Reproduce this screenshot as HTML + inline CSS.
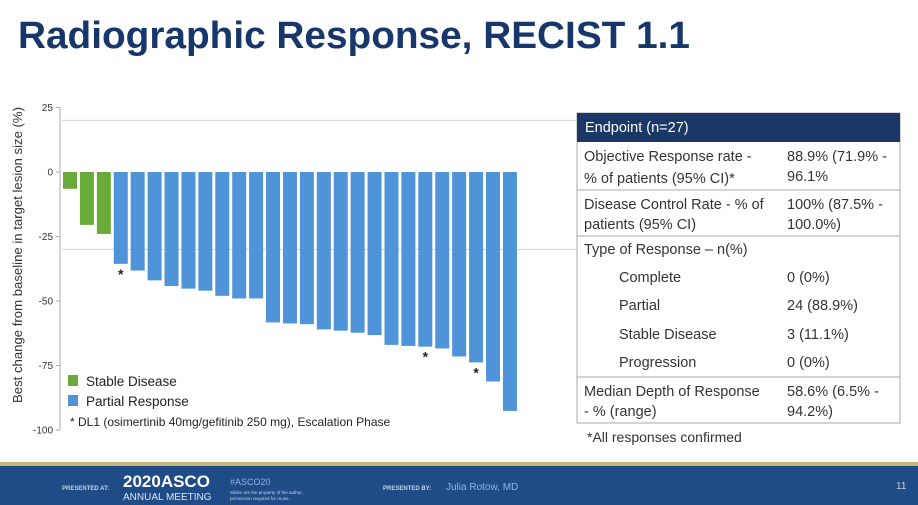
<!DOCTYPE html>
<html><head><meta charset="utf-8"><style>
html,body{margin:0;padding:0;background:#fff;}
svg{display:block;font-family:"Liberation Sans",sans-serif;}
</style></head><body>
<svg id="s" width="918" height="505" viewBox="0 0 918 505" xmlns="http://www.w3.org/2000/svg">
<text x="18" y="48" font-size="38" font-weight="bold" fill="#17376b" textLength="672" lengthAdjust="spacingAndGlyphs">Radiographic Response, RECIST 1.1</text>
<g id="chart"></g>
<text transform="translate(22,255) rotate(-90)" text-anchor="middle" font-size="12.5" fill="#333" textLength="296" lengthAdjust="spacingAndGlyphs">Best change from baseline in target lesion size (%)</text>
<rect x="68" y="375" width="10" height="11" fill="#6aaa3a"/>
<text x="86" y="386" font-size="13.5" fill="#222">Stable Disease</text>
<rect x="68" y="395" width="10" height="11" fill="#4f93d8"/>
<text x="86" y="406" font-size="13.5" fill="#222">Partial Response</text>
<text x="70" y="426" font-size="12" fill="#222">*  DL1 (osimertinib 40mg/gefitinib 250 mg), Escalation Phase</text>

<g font-size="14.5" fill="#333">
<rect x="577" y="113" width="323" height="310" fill="#fff" stroke="#aaa" stroke-width="1"/>
<rect x="577" y="113" width="323" height="29" fill="#1a3768"/>
<text x="585" y="132" fill="#fff" font-size="14.5">Endpoint (n=27)</text>
<line x1="577" y1="190" x2="900" y2="190" stroke="#aaa"/>
<line x1="577" y1="236" x2="900" y2="236" stroke="#aaa"/>
<line x1="577" y1="377" x2="900" y2="377" stroke="#aaa"/>
<text x="584" y="161">Objective Response rate -</text>
<text x="584" y="183">% of patients (95% CI)*</text>
<text x="787" y="161">88.9% (71.9% -</text>
<text x="787" y="181">96.1%</text>
<text x="584" y="209">Disease Control Rate - % of</text>
<text x="584" y="229">patients (95% CI)</text>
<text x="787" y="209">100% (87.5% -</text>
<text x="787" y="229">100.0%)</text>
<text x="584" y="254">Type of Response – n(%)</text>
<text x="619" y="282">Complete</text>
<text x="787" y="282">0 (0%)</text>
<text x="619" y="310">Partial</text>
<text x="787" y="310">24 (88.9%)</text>
<text x="619" y="339">Stable Disease</text>
<text x="787" y="339">3 (11.1%)</text>
<text x="619" y="367">Progression</text>
<text x="787" y="367">0 (0%)</text>
<text x="584" y="396">Median Depth of Response</text>
<text x="584" y="416">- % (range)</text>
<text x="787" y="396">58.6% (6.5% -</text>
<text x="787" y="416">94.2%)</text>
</g>
<text x="587" y="442" font-size="14" fill="#333">*All responses confirmed</text>

<rect x="0" y="462" width="918" height="4" fill="#c9b77a"/>
<rect x="0" y="466" width="918" height="39" fill="#1f4b86"/>
<text x="62" y="490" font-size="6" font-weight="bold" fill="#c8d4e6">PRESENTED AT:</text>
<text x="123" y="487" font-size="17" font-weight="bold" fill="#fff">2020ASCO</text>
<text x="123" y="500" font-size="10" fill="#dde6f2">ANNUAL MEETING</text>
<text x="230" y="485" font-size="9" fill="#8fb4e8">#ASCO20</text>
<text x="230" y="494" font-size="4.5" fill="#c8d4e6">Slides are the property of the author,</text>
<text x="230" y="500" font-size="4.5" fill="#c8d4e6">permission required for reuse.</text>
<text x="383" y="490" font-size="6" font-weight="bold" fill="#c8d4e6">PRESENTED BY:</text>
<text x="446" y="490" font-size="10" fill="#8fb4e8">Julia Rotow, MD</text>
<text x="896" y="489" font-size="10" fill="#c8d4e6">11</text>
</svg>
<script>
const values = [-6.5,-20.5,-24,-35.6,-38.2,-42,-44.2,-45.2,-46,-48,-49,-49,-58.3,-58.7,-59,-61,-61.5,-62.3,-63.2,-67,-67.4,-67.7,-68.4,-71.5,-73.8,-81.2,-92.6];
const responseTypes = ["SD","SD","SD","PR","PR","PR","PR","PR","PR","PR","PR","PR","PR","PR","PR","PR","PR","PR","PR","PR","PR","PR","PR","PR","PR","PR","PR"];
const dl1Flags = [0,0,0,1,0,0,0,0,0,0,0,0,0,0,0,0,0,0,0,0,0,1,0,0,1,0,0];
const yTicks = [25,0,-25,-50,-75,-100];
const refLines = [20,-30];

const NS="http://www.w3.org/2000/svg";
const g=document.getElementById('chart');
const y0=172, k=2.58;
function yScale(v){return y0 - v*k;}
function xScale(i){return 63 + i*16.92;}
const bw=14;
function mk(tag,attrs){const e=document.createElementNS(NS,tag);for(const a in attrs)e.setAttribute(a,attrs[a]);g.appendChild(e);return e;}

refLines.forEach(v=>{
  const l=mk('line',{x1:62,x2:577,y1:yScale(v),y2:yScale(v),stroke:'#d6d0e0','stroke-width':1});
  
  
});
const ax=mk('line',{x1:60,x2:60,y1:yScale(25),y2:yScale(-100),stroke:'#aaa','stroke-width':1});


yTicks.forEach(v=>{
  const t=mk('line',{x1:56,x2:60,y1:yScale(v),y2:yScale(v),stroke:'#aaa'});
  
  
  const tx=mk('text',{x:53,y:yScale(v)+3.5,'text-anchor':'end','font-size':10,fill:'#333'});
  tx.textContent=String(v);
  
  
});
values.forEach((v,i)=>{
  const top=Math.min(yScale(0),yScale(v)), h=Math.abs(yScale(v)-yScale(0));
  const r=mk('rect',{x:xScale(i),y:top,width:bw,height:h,fill:responseTypes[i]==='SD'?'#6aaa3a':'#4f93d8'});
  
  
  if(dl1Flags[i]){
    const a=mk('text',{x:xScale(i)+bw/2,y:yScale(v)+15,'text-anchor':'middle','font-size':14,'font-weight':'bold',fill:'#222'});
    a.textContent='*';
    
    
  }
});
</script>
</body></html>
